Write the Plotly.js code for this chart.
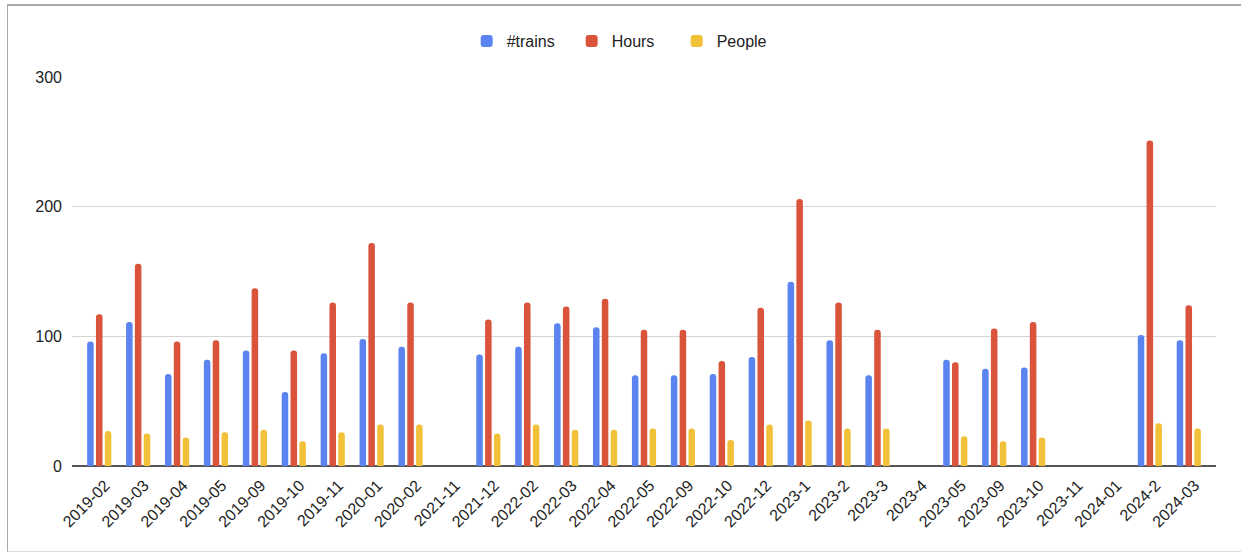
<!DOCTYPE html>
<html>
<head>
<meta charset="utf-8">
<script src="https://cdn.plot.ly/plotly-3.0.1.min.js"></script>
<style>
  html, body { margin: 0; padding: 0; background: #ffffff; }
  #wrap { position: relative; width: 1241px; height: 556px; overflow: hidden; }
  #chart { position: absolute; left: 0; top: 0; width: 1241px; height: 556px; }
  #frame { position: absolute; left: 7px; top: 4px; width: 1234px; height: 548px;
           border-top: 2px solid #a8a8a8; border-left: 1px solid #a8a8a8; border-bottom: 1px solid #dcdcdc;
           box-sizing: border-box; pointer-events: none; }
</style>
</head>
<body>
<div id="wrap">
  <div id="chart"></div>
  <div id="frame"></div>
</div>
<script>
const categories = ["2019-02","2019-03","2019-04","2019-05","2019-09","2019-10","2019-11","2020-01","2020-02","2021-11",
  "2021-12","2022-02","2022-03","2022-04","2022-05","2022-09","2022-10","2022-12","2023-1","2023-2",
  "2023-3","2023-4","2023-05","2023-09","2023-10","2023-11","2024-01","2024-2","2024-03"];

const trains = [96,111,71,82,89,57,87,98,92,null,
  86,92,110,107,70,70,71,84,142,97,
  70,null,82,75,76,null,null,101,97];

const hours = [117,156,96,97,137,89,126,172,126,null,
  113,126,123,129,105,105,81,122,206,126,
  105,null,80,106,111,null,null,251,124];

const people = [27,25,22,26,28,19,26,32,32,null,
  25,32,28,28,29,29,20,32,35,29,
  29,null,23,19,22,null,null,33,29];

const seriesNames = ["#trains","Hours","People"];
const seriesColors = ["#5b84f0","#da533b","#f2c13a"];
const seriesValues = [trains, hours, people];

const traces = seriesValues.map((vals, i) => ({
  type: "bar",
  name: seriesNames[i],
  x: categories,
  y: vals,
  marker: { color: seriesColors[i], cornerradius: 3 },
  hoverinfo: "x+y+name"
}));

const layout = {
  width: 1241,
  height: 556,
  paper_bgcolor: "rgba(0,0,0,0)",
  plot_bgcolor: "rgba(0,0,0,0)",
  margin: { l: 72, r: 25, t: 77, b: 90, pad: 0 },
  font: { family: "Arial, 'Liberation Sans', sans-serif", color: "#222222" },
  barmode: "group",
  bargap: 0.32,
  bargroupgap: 0.26,
  showlegend: true,
  legend: {
    orientation: "h",
    x: 0.345, xanchor: "left",
    y: 1.092, yanchor: "middle",
    font: { size: 16, color: "#222222" },
    itemwidth: 30,
    entrywidth: 60,
    entrywidthmode: "pixels",
    traceorder: "normal"
  },
  xaxis: {
    type: "category",
    range: [-0.7, 28.7],
    tickangle: -45,
    tickfont: { size: 16, color: "#222222" },
    showgrid: false,
    showline: false,
    ticks: "",
    ticklabelstandoff: 6,
    ticklabelshift: 6,
    fixedrange: true
  },
  yaxis: {
    range: [0, 300],
    tickvals: [0, 100, 200, 300],
    ticktext: ["0", "100", "200", "300"],
    tickfont: { size: 16, color: "#222222" },
    showgrid: true,
    gridcolor: "#d4d4d4",
    gridwidth: 1,
    zeroline: true,
    zerolinecolor: "#555555",
    zerolinewidth: 2,
    showline: false,
    ticks: "",
    ticklabelstandoff: 9,
    fixedrange: true
  }
};

Plotly.newPlot("chart", traces, layout, { displayModeBar: false, staticPlot: true });
</script>
</body>
</html>
